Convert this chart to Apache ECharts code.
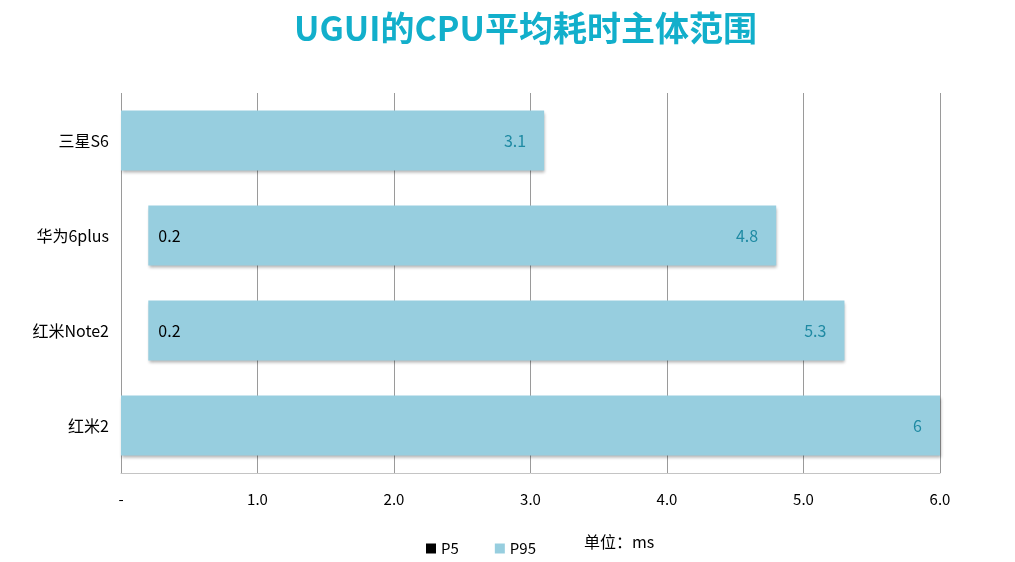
<!DOCTYPE html>
<html>
<head>
<meta charset="utf-8">
<script src="https://cdn.jsdelivr.net/npm/echarts@6/dist/echarts.min.js"></script>
<style>
  html, body { margin: 0; padding: 0; background: #fff; }
  #main { width: 1015px; height: 562px; }
</style>
</head>
<body>
<div id="main"></div>
<script>
// 机型
var devices = ['三星S6', '华为6plus', '红米Note2', '红米2']
// P5 / P95 耗时 (ms)
var p5 = [0, 0.2, 0.2, 0]
var p95 = [3.1, 4.8, 5.3, 6]

var font = '"Noto Sans CJK SC", "Open Sans", sans-serif'
var myChart = echarts.init(document.getElementById('main'))

// P95 段画成从 P5 开始的浮动条
var span = p95.map(function (v, i) { return +(v - p5[i]).toFixed(2) })

var option = {
  backgroundColor: '#fff',
  textStyle: { fontFamily: font },
  title: {
    text: 'UGUI的CPU平均耗时主体范围',
    left: 289,
    top: 6,
    textStyle: { color: '#12afcb', fontSize: 34, fontWeight: 'bold', fontFamily: font }
  },
  legend: {
    left: 421,
    top: 536,
    itemWidth: 10,
    itemHeight: 10,
    itemGap: 36,
    textStyle: { color: '#000', fontSize: 15, fontFamily: font },
    data: [
      { name: 'P5', icon: 'rect', itemStyle: { color: '#000' } },
      { name: 'P95', icon: 'rect', itemStyle: { color: '#97cedf' } }
    ]
  },
  graphic: [{
    type: 'text',
    left: 584,
    top: 534,
    style: { text: '单位：ms', fill: '#000', font: '16px ' + font }
  }],
  grid: { left: 121, right: 75, top: 93, bottom: 89 },
  xAxis: {
    type: 'value',
    min: 0,
    max: 6,
    interval: 1,
    axisLine: { show: true, lineStyle: { color: '#c4c4c4' } },
    axisTick: { show: false },
    axisLabel: {
      color: '#000',
      fontSize: 15,
      margin: 19,
      formatter: function (v) { return v === 0 ? '-' : v.toFixed(1) }
    },
    splitLine: { show: true, showMinLine: true, showMaxLine: true, lineStyle: { color: '#9a9a9a' } }
  },
  yAxis: {
    type: 'category',
    inverse: true,
    data: devices,
    axisLine: { show: false },
    axisTick: { show: false },
    axisLabel: { color: '#000', fontSize: 16, margin: 12 }
  },
  series: [
    {
      name: 'P5',
      type: 'bar',
      stack: 'range',
      barWidth: 60,
      data: p5,
      itemStyle: { color: 'transparent' },
      label: {
        show: true,
        position: 'right',
        distance: 10,
        color: '#000',
        fontSize: 16,
        formatter: function (p) { return p.value ? String(p.value) : '' }
      },
      z: 3
    },
    {
      name: 'P95',
      type: 'bar',
      stack: 'range',
      barWidth: 60,
      data: span,
      itemStyle: {
        color: '#97cedf',
        shadowColor: 'rgba(0,0,0,0.3)',
        shadowBlur: 3,
        shadowOffsetX: 1,
        shadowOffsetY: 2
      },
      label: {
        show: true,
        position: 'insideRight',
        distance: 18,
        color: '#1f8aa3',
        fontSize: 16,
        formatter: function (p) { return String(p95[p.dataIndex]) }
      },
      z: 2
    }
  ]
}

myChart.setOption(option)
</script>
</body>
</html>
